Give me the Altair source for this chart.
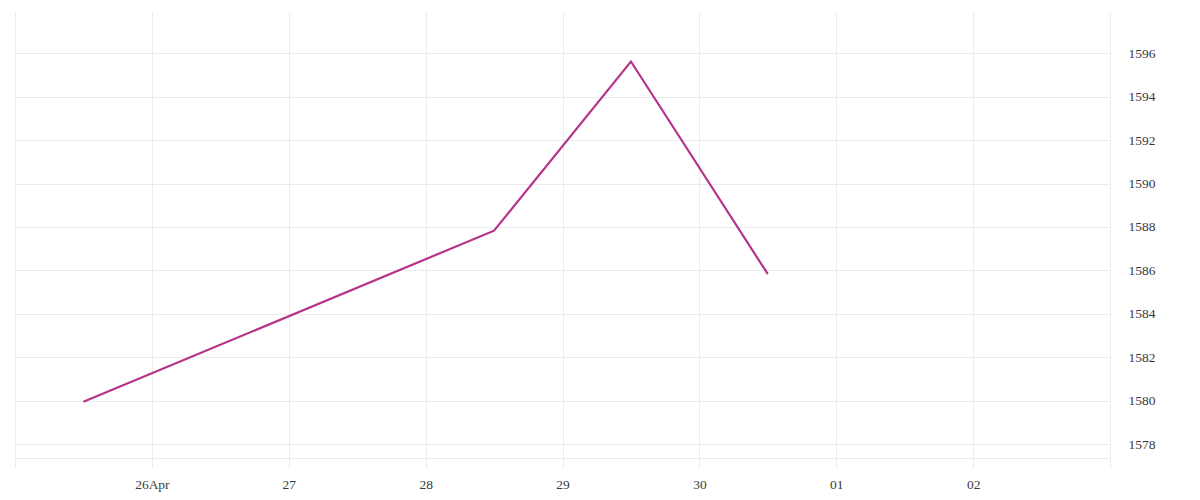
import altair as alt
import pandas as pd

# Data
dates = ["2024-04-25T12:00:00Z", "2024-04-28T12:00:00Z", "2024-04-29T12:00:00Z", "2024-04-30T12:00:00Z"]
values = [1579.95, 1587.83, 1595.62, 1585.83]

x_tick_dates = ["2024-04-25", "2024-04-26", "2024-04-27", "2024-04-28", "2024-04-29",
                "2024-04-30", "2024-05-01", "2024-05-02", "2024-05-03"]
y_ticks = [1578, 1580, 1582, 1584, 1586, 1588, 1590, 1592, 1594, 1596]

df = pd.DataFrame({"date": dates, "value": values})

def ms(s):
    return int(pd.Timestamp(s, tz="UTC").value // 1_000_000)

x_tick_ms = [ms(d) for d in x_tick_dates]
x_domain = [x_tick_ms[0], x_tick_ms[-1]]

FONT = "Liberation Serif"
GRID = "#ebebeb"

label_expr = (
    "utcFormat(datum.value, '%d') == '26' ? '26Apr' : "
    "((utcFormat(datum.value, '%d') == '25' || utcFormat(datum.value, '%d') == '03') ? '' : "
    "utcFormat(datum.value, '%d'))"
)

chart = (
    alt.Chart(df)
    .mark_line(color="#b5338a", strokeWidth=2.2)
    .encode(
        x=alt.X(
            "date:T",
            scale=alt.Scale(type="utc", domain=x_domain, nice=False),
            axis=alt.Axis(
                title=None,
                values=x_tick_ms,
                labelExpr=label_expr,
                grid=True,
                gridColor=GRID,
                gridWidth=1,
                tickColor=GRID,
                tickSize=10,
                domainColor=GRID,
                labelFont=FONT,
                labelFontSize=13.5,
                labelColor="#3a3a3a",
                labelPadding=9,
                labelFlush=False,
            ),
        ),
        y=alt.Y(
            "value:Q",
            scale=alt.Scale(domain=[1577.36, 1597.9], nice=False, zero=False),
            axis=alt.Axis(
                title=None,
                orient="right",
                values=y_ticks,
                format="d",
                grid=True,
                gridColor=GRID,
                gridWidth=1,
                ticks=False,
                domain=False,
                labelFont=FONT,
                labelFontSize=13.5,
                labelColor="#3a3a3a",
                labelPadding=18,
                labelFlush=False,
            ),
        ),
    )
    .properties(width=1095, height=446, padding={"left": 6, "top": 4, "right": 10, "bottom": 5})
    .configure_view(stroke=None)
)

chart.save("out.html", embed_options={"renderer": "svg", "actions": False})
